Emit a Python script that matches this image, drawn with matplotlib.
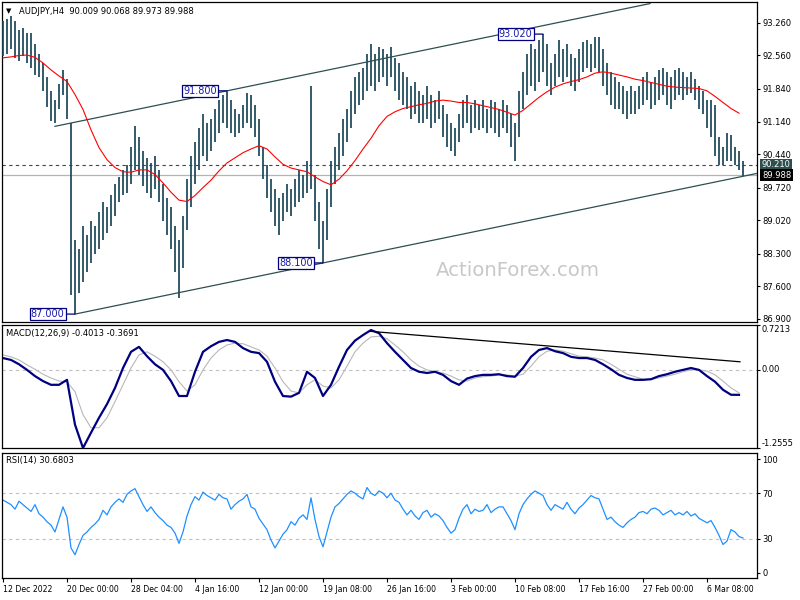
import numpy as np
import matplotlib
matplotlib.use("Agg")
import matplotlib.pyplot as plt

plt.rcParams['font.family'] = ['DejaVu Sans']

# ---------------- data ----------------
symbol = "AUDJPY,H4"
last_ohlc = ["90.009", "90.068", "89.973", "89.988"]

time_labels = ["12 Dec 2022", "20 Dec 00:00", "28 Dec 04:00", "4 Jan 16:00",
               "12 Jan 00:00", "19 Jan 08:00", "26 Jan 16:00", "3 Feb 00:00",
               "10 Feb 08:00", "17 Feb 16:00", "27 Feb 00:00", "6 Mar 08:00"]

price_ticks = [93.260, 92.560, 91.840, 91.140, 90.440, 89.720, 89.020, 88.300, 87.600, 86.900]

# H4 bars, one entry per two bars
bar_high = [
    93.30, 93.35, 93.40, 93.30, 93.10, 93.15, 93.05, 93.05, 92.80, 92.60,
    92.40, 92.10, 91.80, 91.60, 91.95, 92.25, 92.05, 91.10, 88.60, 88.40,
    88.90, 88.70, 89.00, 88.90, 89.20, 89.40, 89.30, 89.55, 89.80, 89.95,
    90.10, 90.20, 90.60, 91.05, 90.80, 90.50, 90.35, 90.25, 90.40, 90.10,
    89.80, 89.50, 89.30, 88.90, 88.60, 89.10, 89.90, 90.40, 90.70, 91.00,
    91.30, 91.10, 91.20, 91.40, 91.60, 91.70, 91.80, 91.60, 91.40, 91.30,
    91.50, 91.75, 91.70, 91.50, 91.20, 90.60, 90.20, 89.90, 89.70, 89.50,
    89.60, 89.80, 89.70, 89.90, 90.10, 90.00, 90.30, 91.90, 90.00, 89.40,
    89.00, 89.70, 90.30, 90.60, 90.90, 91.20, 91.40, 91.80, 92.10, 92.20,
    92.30, 92.60, 92.80, 92.60, 92.75, 92.70, 92.60, 92.75, 92.50, 92.40,
    92.20, 92.10, 91.90, 92.00, 91.80, 91.70, 91.90, 91.70, 91.60, 91.80,
    91.50, 91.30, 91.10, 91.00, 91.30, 91.60, 91.70, 91.50, 91.60, 91.50,
    91.60, 91.40, 91.60, 91.55, 91.40, 91.60, 91.50, 91.30, 91.10, 91.80,
    92.20, 92.60, 92.80, 92.70, 92.90, 93.02, 92.80, 92.40, 92.60, 92.90,
    92.70, 92.80, 92.60, 92.50, 92.70, 92.85, 92.90, 92.80, 92.95, 92.95,
    92.70, 92.40, 92.20, 92.10, 92.00, 91.90, 91.80, 91.90, 91.80, 91.90,
    92.10, 92.20, 92.00, 92.10, 92.25, 92.30, 92.20, 92.10, 92.25, 92.30,
    92.20, 92.10, 92.20, 92.05, 91.90, 91.80, 91.60, 91.60, 91.50, 90.80,
    90.60, 90.90, 90.85, 90.60, 90.50, 90.30]

bar_low = [
    92.55, 92.60, 92.70, 92.50, 92.45, 92.55, 92.40, 92.30, 92.15, 92.10,
    91.80, 91.45, 91.15, 91.10, 91.40, 91.70, 91.20, 87.40, 87.00, 87.45,
    87.70, 87.90, 88.10, 88.30, 88.40, 88.60, 88.75, 88.90, 89.10, 89.40,
    89.55, 89.60, 89.80, 90.10, 90.00, 89.75, 89.60, 89.50, 89.70, 89.40,
    89.00, 88.70, 88.40, 87.90, 87.35, 88.00, 88.80, 89.30, 89.80, 90.10,
    90.40, 90.30, 90.50, 90.70, 90.90, 91.10, 91.00, 90.90, 90.80, 90.90,
    91.00, 91.10, 91.00, 90.80, 90.40, 89.90, 89.50, 89.20, 88.90, 88.70,
    89.00, 89.20, 89.10, 89.30, 89.40, 89.50, 89.60, 89.70, 89.00, 88.40,
    88.10, 88.60, 89.30, 89.80, 90.10, 90.40, 90.70, 91.00, 91.30, 91.50,
    91.60, 91.80, 91.90, 91.80, 92.00, 92.10, 91.90, 92.10, 91.80, 91.60,
    91.50, 91.40, 91.20, 91.30, 91.10, 91.10, 91.20, 91.00, 91.10, 91.20,
    90.80, 90.60, 90.50, 90.40, 90.70, 91.00, 91.10, 90.90, 91.00, 90.95,
    91.00, 90.90, 91.00, 90.90, 90.80, 91.00, 90.90, 90.60, 90.30, 90.80,
    91.40, 91.70, 91.90, 91.80, 92.00, 92.20, 91.90, 91.70, 91.90, 92.10,
    92.00, 92.10, 91.90, 91.80, 92.00, 92.20, 92.30, 92.20, 92.30, 92.20,
    91.90, 91.70, 91.50, 91.40, 91.40, 91.30, 91.20, 91.30, 91.30, 91.40,
    91.50, 91.60, 91.40, 91.50, 91.60, 91.70, 91.50, 91.40, 91.60, 91.70,
    91.60, 91.70, 91.75, 91.60, 91.40, 91.30, 91.00, 90.80, 90.40, 90.20,
    90.20, 90.30, 90.30, 90.20, 90.10, 89.973]

# moving average, one entry per four bars
moving_avg = [
    92.51, 92.53, 92.56, 92.57, 92.52, 92.40, 92.25, 92.12, 92.00, 91.72,
    91.40, 90.96, 90.58, 90.32, 90.15, 90.06, 90.05, 90.10, 90.10, 90.00,
    89.82, 89.62, 89.45, 89.42, 89.55, 89.72, 89.88, 90.08, 90.25, 90.36,
    90.47, 90.55, 90.62, 90.55, 90.38, 90.22, 90.14, 90.10, 90.06, 89.95,
    89.85, 89.78, 89.90, 90.08, 90.30, 90.55, 90.78, 91.05, 91.25, 91.35,
    91.42, 91.46, 91.50, 91.53, 91.58, 91.60, 91.58, 91.55, 91.55, 91.52,
    91.48, 91.44, 91.40, 91.34, 91.28, 91.38, 91.52, 91.66, 91.78, 91.88,
    91.95, 92.00, 92.04, 92.10, 92.18, 92.21, 92.18, 92.14, 92.10, 92.05,
    92.02, 91.98, 91.94, 91.90, 91.88, 91.87, 91.86, 91.85, 91.80, 91.68,
    91.55, 91.42, 91.32]

# MACD(12,26,9), one entry per four bars
macd_main = [
    0.19, 0.16, 0.09, 0.00, -0.10, -0.18, -0.24, -0.24, -0.16, -0.88,
    -1.2555, -1.01, -0.77, -0.55, -0.29, 0.03, 0.29, 0.37, 0.22, 0.09,
    0.00, -0.18, -0.42, -0.42, -0.03, 0.29, 0.38, 0.45, 0.48, 0.45,
    0.35, 0.29, 0.27, 0.13, -0.19, -0.42, -0.43, -0.37, -0.03, -0.13,
    -0.42, -0.24, 0.05, 0.32, 0.47, 0.56, 0.64, 0.59, 0.43, 0.29,
    0.16, 0.03, -0.03, -0.05, -0.03, -0.08, -0.18, -0.24, -0.14, -0.10,
    -0.08, -0.08, -0.07, -0.10, -0.11, 0.03, 0.21, 0.32, 0.35, 0.30,
    0.27, 0.21, 0.19, 0.19, 0.16, 0.09, 0.01, -0.08, -0.13, -0.16,
    -0.16, -0.15, -0.10, -0.07, -0.03, 0.00, 0.03, 0.00, -0.10, -0.19,
    -0.32, -0.40, -0.4013]

macd_signal = [
    0.24, 0.21, 0.16, 0.08, 0.01, -0.07, -0.13, -0.18, -0.19, -0.35,
    -0.72, -0.93, -0.93, -0.77, -0.51, -0.24, 0.03, 0.24, 0.29, 0.22,
    0.13, 0.00, -0.19, -0.34, -0.24, 0.00, 0.19, 0.32, 0.40, 0.43,
    0.42, 0.37, 0.32, 0.22, 0.03, -0.19, -0.34, -0.37, -0.24, -0.16,
    -0.26, -0.29, -0.16, 0.06, 0.29, 0.43, 0.53, 0.54, 0.50, 0.40,
    0.29, 0.16, 0.06, 0.00, -0.03, -0.05, -0.10, -0.16, -0.18, -0.13,
    -0.11, -0.10, -0.08, -0.08, -0.10, -0.07, 0.06, 0.21, 0.30, 0.32,
    0.30, 0.26, 0.22, 0.21, 0.19, 0.16, 0.09, 0.01, -0.07, -0.11,
    -0.15, -0.15, -0.13, -0.10, -0.07, -0.03, 0.00, 0.00, -0.02, -0.08,
    -0.18, -0.29, -0.3691]

macd_max, macd_min = 0.7213, -1.2555

# RSI(14), one entry per two bars
rsi = [
    64, 62, 60, 56, 63, 60, 57, 54, 60, 52,
    49, 45, 42, 36, 47, 58, 49, 22, 16, 25,
    33, 36, 40, 43, 47, 55, 51, 58, 62, 65,
    62, 69, 72, 74, 67, 60, 54, 58, 53, 49,
    46, 42, 40, 35, 26, 36, 50, 60, 67, 64,
    71, 68, 66, 64, 69, 66, 65, 56, 60, 63,
    65, 69, 58, 56, 48, 43, 38, 29, 22, 28,
    34, 38, 45, 42, 48, 51, 47, 66, 47, 32,
    23, 36, 49, 58, 61, 65, 69, 72, 70, 67,
    65, 75, 70, 68, 72, 70, 66, 70, 64, 62,
    56, 51, 55, 50, 47, 53, 55, 49, 52, 50,
    46, 40, 35, 38, 48, 56, 60, 52, 56, 54,
    55, 60, 53, 56, 58, 58, 52, 46, 38, 52,
    60, 65, 69, 72, 70, 68, 60, 55, 60, 58,
    56, 62, 56, 52, 57, 60, 64, 68, 66, 65,
    56, 47, 49, 45, 42, 40, 44, 47, 49, 53,
    54, 52, 56, 57, 55, 51, 53, 55, 51, 53,
    51, 54, 50, 52, 48, 46, 44, 46, 40, 33,
    25, 28, 38, 36, 32, 30.6803]

# labelled swing points: (bar index, price)
swing_points = [(36, 87.000), (112, 91.800), (160, 88.100), (270, 93.020)]
current_ask_line = 90.210
current_bid = 89.988

# ---------------- layout ----------------
W, H = 800, 600
fig = plt.figure(figsize=(8, 6), dpi=100)
fig.patch.set_facecolor('white')


def rect(x0, y0, x1, y1):
    return [x0 / W, 1 - y1 / H, (x1 - x0) / W, (y1 - y0) / H]


def px(x, y):
    return x / W, 1 - y / H


ax_p = fig.add_axes(rect(2, 2, 757, 322))
ax_m = fig.add_axes(rect(2, 325, 757, 448))
ax_r = fig.add_axes(rect(2, 453, 757, 578))

bar_col = '#1b475a'
slate = '#2f4f4f'
xlim = (-0.5, 377)

for ax in (ax_p, ax_m, ax_r):
    ax.set_xlim(*xlim)
    ax.set_facecolor('white')
    for s in ax.spines.values():
        s.set_color('black')
        s.set_linewidth(0.9)
    ax.yaxis.tick_right()
    ax.tick_params(axis='y', direction='out', length=2.5, width=0.8, pad=1.5,
                   labelsize=6, colors='black')
    ax.tick_params(axis='x', bottom=False, labelbottom=False)

# ---- price panel ----
bx = np.arange(len(bar_high)) * 2
ax_p.vlines(bx, bar_low, bar_high, color=bar_col, lw=1.25, zorder=3)
ma_x = np.arange(len(moving_avg)) * 4
ax_p.plot(ma_x, moving_avg, color='red', lw=0.8, zorder=4)
ax_p.set_ylim(86.83, 93.71)
ax_p.set_yticks(price_ticks)
ax_p.set_yticklabels([f"{v:.3f}" for v in price_ticks])

# channel: lower line through the two labelled lows, upper line parallel through the high
(b0, p0), (b2, p2), (b1, p1) = swing_points[0], swing_points[1], swing_points[2]
slope = (p1 - p0) / (b1 - b0)
lo_x = np.array([b0, xlim[1]])
ax_p.plot(lo_x, p0 + slope * (lo_x - b0), color=slate, lw=0.9, zorder=5)
up_x = np.array([26, 323.5])
ax_p.plot(up_x, p2 + slope * (up_x - b2), color=slate, lw=0.9, zorder=5)

ax_p.axhline(current_ask_line, color=slate, lw=0.8, ls=(0, (3, 3)), zorder=2)
ax_p.axhline(current_bid, color='#b4b4b4', lw=0.9, zorder=2)

for b, p in swing_points:
    ax_p.annotate(f"{p:.3f}", xy=(b, p), xytext=(-7.5, 0), textcoords='offset points',
                  ha='right', va='center', fontsize=7, color='#1a1aa6',
                  bbox=dict(boxstyle='square,pad=0.12', fc='white', ec='#000080', lw=0.9),
                  arrowprops=dict(arrowstyle='-', color='#000080', lw=0.9,
                                  shrinkA=0, shrinkB=0), zorder=6)

ax_p.text(1.0066, current_ask_line, f"{current_ask_line:.3f}", transform=ax_p.get_yaxis_transform(),
          ha='left', va='center', fontsize=6, color='white', clip_on=False, zorder=10,
          bbox=dict(boxstyle='square,pad=0.18', fc=slate, ec='none'))
ax_p.text(1.0066, current_bid, f"{current_bid:.3f}", transform=ax_p.get_yaxis_transform(),
          ha='left', va='center', fontsize=6, color='white', clip_on=False, zorder=10,
          bbox=dict(boxstyle='square,pad=0.18', fc='black', ec='none'))

ax_p.text(*px(518, 270), "ActionForex.com", transform=fig.transFigure, ha='center',
          va='center', fontsize=14.2, color='#c8c8c8', zorder=1)

fig.text(*px(6, 11), "\u25bc", fontsize=5, va='center', ha='left', color='black')
fig.text(*px(19, 11), f"{symbol}  " + " ".join(last_ohlc), fontsize=6, va='center',
         ha='left', color='black')

# ---- MACD panel ----
mx = np.arange(len(macd_main)) * 4
ax_m.axhline(0, color='#c0c0c0', lw=0.8, ls=(0, (3, 3)))
ax_m.plot(mx, macd_signal, color='#b8b8b8', lw=0.8)
ax_m.plot(mx, macd_main, color='#000080', lw=1.6)
ax_m.plot([183.5, 368.5], [0.62, 0.13], color='black', lw=0.9)
ax_m.set_ylim(macd_min, macd_max)
ax_m.set_yticks([macd_max, 0.0, macd_min])
ax_m.set_yticklabels(['', '', ''])
tr = ax_m.get_yaxis_transform()
ax_m.text(1.0066, macd_max, f"{macd_max:.4f}", transform=tr, ha='left', va='top', fontsize=6)
ax_m.text(1.0066, 0.0, "0.00", transform=tr, ha='left', va='center', fontsize=6)
ax_m.text(1.0066, macd_min, f"{macd_min:.4f}", transform=tr, ha='left', va='bottom', fontsize=6)
fig.text(*px(6, 333), f"MACD(12,26,9) {macd_main[-1]:.4f} {macd_signal[-1]:.4f}",
         fontsize=6, va='center', ha='left')

# ---- RSI panel ----
rx = np.arange(len(rsi)) * 2
for lvl in (70, 30):
    ax_r.axhline(lvl, color='#c0c0c0', lw=0.8, ls=(0, (3, 3)))
ax_r.plot(rx, rsi, color='#1e90ff', lw=0.9)
ax_r.set_ylim(-4.4, 105.3)
ax_r.set_yticks([100, 70, 30, 0])
ax_r.set_yticklabels(['100', '70', '30', '0'])
fig.text(*px(6, 461), f"RSI(14) {rsi[-1]:.4f}", fontsize=6, va='center', ha='left')

tick_bars = np.arange(len(time_labels)) * 32
ax_r.set_xticks(tick_bars)
ax_r.set_xticklabels(time_labels)
ax_r.tick_params(axis='x', bottom=True, labelbottom=True, direction='out', length=3,
                 width=0.8, pad=2, labelsize=5.6)
for lab in ax_r.get_xticklabels():
    lab.set_ha('left')

fig.savefig('out.png', dpi=100)
